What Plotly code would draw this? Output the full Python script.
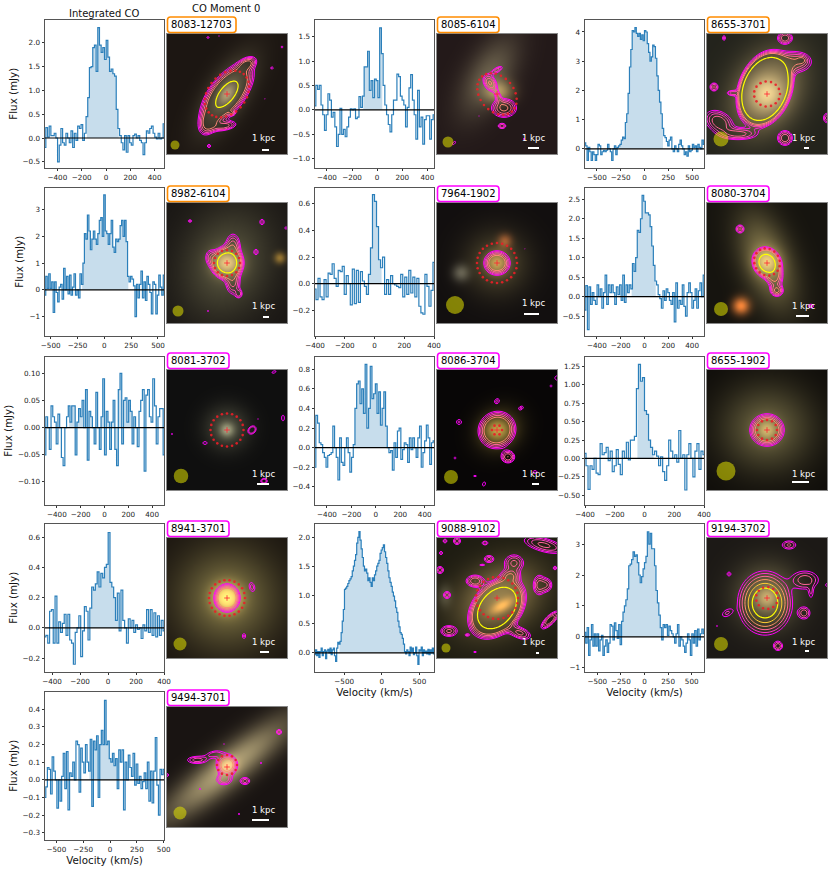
import numpy as np
import plotly.graph_objects as go

W, H = 831, 869
IDS = ["8083-12703", "8085-6104", "8655-3701", "8982-6104", "7964-1902", "8080-3704", "8081-3702",
       "8086-3704", "8655-1902", "8941-3701", "9088-9102", "9194-3702", "9494-3701"]
BOX_COLORS = ["#ff8c00"] * 4 + ["#ff00ff"] * 9

XLIM = [(-502, 477), (-495, 453), (-625, 625), (-553, 556), (-400, 400), (-500, 500), (-500, 500),
        (-498, 476), (-400, 400), (-450, 400), (-889, 695), (-630, 630), (-606, 503)]
YLIM = [(-0.62, 2.48), (-1.18, 1.84), (-0.64, 4.41), (-1.71, 3.81), (-0.39, 0.72), (-1.0, 2.79), (-0.1415, 0.13),
        (-0.58, 0.925), (-0.627, 1.38), (-0.288, 0.686), (-0.323, 2.23), (-1.12, 3.65), (-0.338, 0.498)]
X200 = [-400, -200, 0, 200, 400]
X250 = [-500, -250, 0, 250, 500]
XTICKS = [X200, X200, X250, X250, X200, X200, X200, X200, X200, X200, [-500, 0, 500], X250, X250]
YTICKS = [[-0.5, 0, 0.5, 1, 1.5, 2], [-1, -0.5, 0, 0.5, 1, 1.5], [0, 1, 2, 3, 4], [-1, 0, 1, 2, 3],
          [-0.2, 0, 0.2, 0.4, 0.6], [-0.5, 0, 0.5, 1, 1.5, 2, 2.5], [-0.1, -0.05, 0, 0.05, 0.1],
          [-0.4, -0.2, 0, 0.2, 0.4, 0.6, 0.8], [-0.5, -0.25, 0, 0.25, 0.5, 0.75, 1, 1.25],
          [-0.2, 0, 0.2, 0.4, 0.6], [0, 0.5, 1, 1.5, 2], [-1, 0, 1, 2, 3], [-0.3, -0.2, -0.1, 0, 0.1, 0.2, 0.3, 0.4]]
YFMT = [".1f", ".1f", ".0f", ".0f", ".1f", ".1f", ".2f", ".1f", ".2f", ".1f", ".1f", ".0f", ".1f"]
FILL_WINDOW = [(-165, 105), (-115, 52), (-280, 200), (-215, 235), (-58, 55), (-115, 95), (-300, 260),
               (-185, 105), (-55, 65), (-135, 75), (-565, 335), (-255, 175), (-205, 75)]

S_8083 = [-0.2,0.22,0.02,0.25,0.05,0.05,0.1,0.0,-0.5,-0.15,0.2,-0.1,-0.15,0.1,0.0,-0.1,0.15,-0.2,0.1,-0.05,0.25,0.2,0.28,-0.05,0.1,0.45,0.85,1.48,1.5,1.9,1.95,1.4,2.32,1.95,1.8,1.9,1.65,2.05,1.7,1.4,1.45,1.35,1.3,0.6,0.2,0.05,-0.1,-0.25,0.05,-0.3,0.05,-0.1,-0.15,0.05,0.08,0.0,0.05,-0.05,-0.1,-0.35,-0.1,0.15,0.1,0.2,0.25,0.1,0.02,-0.02,0.1,-0.02,0.0,0.3]
S_8085 = [0.08,0.5,0.42,0.5,0.1,-0.1,-0.42,-0.1,0.33,0.2,-0.15,-0.05,-0.35,-0.75,-0.5,0.03,-0.5,-0.4,-0.55,-0.35,-0.15,0.02,0.0,0.02,-0.18,-0.15,0.27,0.05,0.28,0.88,0.88,1.2,0.4,0.6,0.25,0.63,0.6,0.25,1.68,1.15,0.5,0.1,-0.1,-0.3,-0.45,-0.1,0.2,0.2,0.73,0.68,0.28,0.2,0.1,-0.35,0.05,0.45,0.72,0.2,-0.1,-0.6,0.4,-0.35,-0.15,-0.7,-0.2,-0.12,-0.12,-0.6,-0.2,-0.1]
S_8655A = [0.2,0.1,-0.4,0.05,-0.1,-0.4,-0.1,-0.2,-0.4,-0.2,0.15,0.1,-0.2,-0.1,-0.05,-0.1,-0.05,0.15,0.0,-0.1,-0.4,0.0,0.1,-0.2,0.05,0.1,0.15,0.3,0.4,0.35,0.9,1.2,1.9,2.8,3.4,4.05,4.0,4.15,3.95,3.85,3.95,3.75,3.9,3.7,4.05,4.0,3.6,3.3,3.0,3.15,3.55,3.5,3.1,2.5,2.0,1.6,1.2,0.7,0.45,0.38,0.25,0.1,0.3,0.4,0.0,-0.1,0.1,0.0,-0.1,0.15,0.3,0.1,0.0,-0.2,-0.1,-0.25,0.1,-0.1,-0.05,0.15,0.05,0.1,-0.1,0.15,0.05,0.0,0.3,0.15]
S_8982 = [-0.2,0.5,0.05,0.6,0.05,0.3,-0.85,0.3,-0.1,-0.45,0.1,0.2,-0.35,0.8,0.0,0.5,-0.15,0.55,-0.2,0.1,0.6,-0.2,0.0,-0.3,0.6,0.2,1.0,2.1,1.9,2.8,2.2,1.5,1.9,2.2,1.9,1.7,2.1,2.6,2.7,2.0,3.55,2.2,2.1,1.7,2.1,2.6,1.6,1.4,1.9,1.8,1.9,2.4,2.6,2.0,2.6,1.8,0.5,0.3,0.5,0.4,0.15,-1.0,0.2,-0.3,0.2,0.7,-0.3,0.3,-0.4,0.5,0.2,-0.1,-0.9,0.3,0.2,-0.9,-0.2,0.55,0.1,-0.2,0.55]
S_7964 = [-0.04,-0.12,0.04,-0.1,-0.12,0.03,-0.1,0.08,0.07,0.15,0.04,-0.02,0.1,0.09,0.13,-0.08,0.06,0.0,-0.16,0.11,-0.15,0.1,-0.14,0.09,0.02,-0.02,-0.08,0.07,0.27,0.67,0.62,0.43,0.18,0.12,0.2,-0.08,0.03,-0.08,0.06,0.0,-0.01,-0.02,-0.03,0.07,-0.1,0.05,-0.08,0.1,-0.07,0.05,-0.1,0.04,-0.17,-0.22,-0.23,0.07,-0.02,-0.17,-0.05,0.16]
S_8080 = [-0.35,0.28,-0.85,0.25,-0.2,0.1,-0.1,-0.2,0.3,0.0,0.2,-0.3,0.1,0.55,-0.2,0.3,0.1,0.3,0.1,-0.2,0.25,0.05,0.3,-0.1,0.55,-0.15,0.3,0.1,0.3,0.2,0.85,0.65,1.0,1.7,1.65,2.0,2.6,2.45,2.15,2.15,2.1,1.8,1.3,0.8,0.4,0.3,0.05,-0.05,-0.3,0.15,-0.1,0.2,0.1,-0.1,-0.2,0.1,-0.65,0.35,-0.3,-0.1,-0.2,0.3,-0.25,-0.5,0.1,0.35,0.1,-0.3,-0.1,0.2,-0.3,0.15,0.35,0.0,0.55]
S_8081 = [-0.05,0.02,0.0,-0.04,0.04,0.02,0.01,-0.03,0.025,0.0,-0.055,-0.07,0.0,0.02,0.04,0.01,0.04,0.04,-0.05,0.01,0.035,0.02,0.05,0.0,0.07,-0.06,0.03,0.02,0.0,-0.03,0.065,0.0,-0.04,0.02,0.09,-0.05,0.03,0.01,-0.04,0.01,0.05,-0.04,-0.07,0.07,0.1,-0.03,0.05,0.055,0.01,0.05,0.03,-0.03,0.02,0.0,-0.035,0.03,0.05,0.07,-0.08,0.06,0.07,0.02,0.01,0.09,0.04,-0.03,0.02,0.035,0.035,-0.05]
S_8086 = [-0.2,0.33,0.25,0.05,0.03,-0.05,-0.1,-0.2,-0.08,-0.07,-0.05,0.22,0.0,-0.1,-0.33,0.1,-0.15,-0.18,0.0,0.1,-0.05,-0.25,-0.1,0.03,0.4,0.65,0.68,0.45,0.6,0.35,0.85,0.2,0.4,0.83,0.5,0.55,0.65,0.35,0.57,0.23,0.4,0.57,0.22,0.0,-0.05,-0.03,-0.23,0.05,-0.1,0.17,0.2,-0.12,-0.02,0.05,0.03,-0.15,0.1,-0.02,0.1,0.0,-0.1,0.1,0.22,-0.2,-0.05,0.07,0.23,0.1,-0.17,0.05,0.07]
S_8655B = [0.07,-0.1,-0.42,-0.1,-0.15,0.0,-0.2,-0.22,0.2,0.05,0.08,0.15,-0.03,0.1,-0.18,-0.1,0.12,-0.08,-0.22,0.1,0.0,0.22,-0.02,0.25,0.25,0.3,0.95,1.28,1.05,1.1,0.65,0.6,0.25,0.15,0.05,0.1,0.03,-0.1,0.02,-0.18,-0.3,-0.1,0.25,0.1,0.0,0.05,-0.05,0.38,0.0,0.05,-0.43,0.05,0.2,0.0,-0.25,0.1,0.2,-0.15,0.1,0.05]
S_8941 = [-0.06,-0.05,-0.1,0.11,0.12,-0.1,0.21,-0.1,0.04,-0.03,0.03,0.09,-0.05,0.09,-0.08,-0.1,-0.24,-0.03,0.0,0.08,-0.19,-0.02,0.14,0.11,-0.08,0.13,0.27,0.25,0.29,0.37,0.27,0.36,0.33,0.4,0.42,0.63,0.3,0.27,0.2,0.05,0.23,-0.02,0.25,0.05,0.0,-0.1,0.06,0.0,0.05,-0.03,0.02,-0.01,0.0,-0.07,0.02,-0.02,0.12,-0.03,0.12,-0.05,0.1,-0.06,0.08,-0.05,0.05,-0.02]
S_9088 = [-0.03,0.05,-0.05,0.02,-0.08,0.02,0.08,-0.05,0.02,0.05,-0.1,0.03,0.06,0.0,0.08,-0.03,0.05,0.08,-0.05,-0.15,0.08,0.18,0.15,0.2,0.35,0.55,0.75,1.1,1.12,1.15,1.2,1.25,1.28,1.32,1.42,1.5,1.6,1.7,1.9,2.0,2.1,1.95,1.8,1.65,1.5,1.42,1.45,1.38,1.25,1.3,1.22,1.15,1.3,1.25,1.35,1.42,1.5,1.55,1.6,1.72,1.78,1.82,1.87,1.75,1.65,1.55,1.42,1.3,1.22,1.15,1.05,0.98,0.9,0.78,0.7,0.55,0.45,0.35,0.32,0.25,0.15,0.02,-0.02,0.05,0.02,-0.05,0.1,0.02,0.08,-0.03,0.0,0.1,-0.05,-0.2,0.05,0.03,0.1,-0.05,0.05,0.0,0.03,-0.02,0.06,-0.03,0.05,0.0,0.08,-0.02]
S_9194 = [0.15,-0.2,0.3,-0.6,-0.1,0.4,-0.3,0.1,-0.3,0.1,-0.45,-0.1,0.05,-0.6,-0.3,-0.1,-0.5,-0.2,0.4,0.35,-0.1,0.45,0.2,-0.05,0.4,-0.25,0.5,0.8,1.0,1.2,1.55,2.3,2.35,2.5,2.75,2.6,2.65,2.4,2.0,1.75,1.95,2.2,2.4,2.6,3.4,3.0,3.35,2.85,2.85,2.3,1.5,1.1,0.7,0.3,-0.1,0.4,0.3,0.4,0.05,0.35,0.2,0.1,0.0,-0.2,0.1,0.4,-0.3,0.0,-0.1,-0.3,-0.5,-0.2,0.1,-0.1,-0.6,0.1,-0.2,0.2,-0.3,0.25,-0.1,0.1,0.25,0.1]
S_9494 = [-0.1,-0.04,0.07,0.06,-0.08,0.13,0.05,0.0,-0.16,0.0,-0.12,0.02,0.15,-0.05,0.16,-0.17,0.04,0.02,0.1,0.0,0.22,0.2,-0.07,0.18,0.1,0.04,0.2,0.1,0.05,0.23,-0.15,0.22,0.17,0.25,-0.1,0.2,0.28,0.2,0.45,0.2,0.22,0.12,0.1,0.15,0.08,0.12,-0.05,0.17,0.1,0.17,-0.17,0.1,0.0,0.14,0.07,0.02,0.15,-0.03,0.09,-0.02,0.02,-0.05,-0.01,0.04,-0.05,0.1,-0.12,0.05,-0.13,0.05,0.24,-0.03,-0.2,0.06,0.03,0.06]
SPECTRA = [S_8083, S_8085, S_8655A, S_8982, S_7964, S_8080, S_8081, S_8086, S_8655B, S_8941, S_9088, S_9194, S_9494]

# photo panels: background colour and soft light blobs (x, y, sx, sy, angle, r, g, b)
BG = [(28,22,18), (35,25,25), (35,35,28), (25,22,20), (18,15,15), (22,20,15), (15,15,15),
      (8,6,6), (15,13,10), (25,20,15), (30,28,18), (28,25,22), (25,20,18)]
G_8083 = [(60,60,30,13,-58,70,68,50), (60,60,8,5,-58,80,70,50)]
G_8085 = [(52,42,30,15,-60,70,70,50), (62,58,10,8,0,110,95,50)]
G_8655A = [(60,58,30,22,-60,130,110,70), (60,60,12,12,0,80,70,50)]
G_8982 = [(60,60,38,30,-70,60,60,40), (60,60,10,9,0,150,120,70), (113,55,4,4,0,110,80,20)]
G_7964 = [(60,60,22,22,0,60,55,30), (60,60,8,8,0,120,90,40), (68,38,5,5,0,110,50,20), (24,70,6,6,0,70,70,60)]
G_8080 = [(60,58,34,17,70,110,100,60), (60,59,9,9,0,110,90,50), (34,103,6,6,0,220,110,40)]
G_8081 = [(60,58,15,15,0,60,60,45), (60,60,5,5,0,90,90,70)]
G_8086 = [(62,60,16,14,-40,75,65,25), (60,60,9,8,0,110,90,40)]
G_8655B = [(60,58,32,30,0,85,80,50), (60,60,8,8,0,110,90,50)]
G_8941 = [(60,60,35,35,0,95,90,50), (60,60,10,10,0,170,140,60)]
G_9088 = [(62,60,30,22,-30,120,100,60), (65,68,9,4,-30,120,70,20), (8,58,5,8,0,40,40,35)]
G_9194 = [(60,58,22,22,0,85,80,50), (60,60,8,8,0,90,70,40)]
G_9494 = [(60,62,55,13,-38,150,140,100), (60,58,7,6,0,90,60,30)]
GALAXIES = [G_8083, G_8085, G_8655A, G_8982, G_7964, G_8080, G_8081, G_8086, G_8655B, G_8941, G_9088, G_9194, G_9494]

# CO moment-0 emission: components (x, y, sx, sy, angle, amplitude)
C_8083 = [(60,60,17,8,-52,12), (42,88,8,5,-65,3.5), (58,92,8,3,-10,2.5), (80,30,6,3.5,-30,3), (41,3.5,1.5,1,0,1.4),
          (52,2,1,0.7,0,1.2), (115,13,1.3,1.3,0,1.4), (105,34,1.5,1.5,0,1.4), (42,112,2,2,0,1.4), (65,79,2,1.5,0,2), (98,65,0.8,0.8,0,1.2)]
C_8085 = [(53,49,6,4,60,3.2), (60,36,5,2,-30,2), (67,74,8,6,0,3.4), (61,62,5,2,70,1.6), (65,92,3,2,0,2.2),
          (17,109,3,1.5,-45,1.3), (42,82,0.8,0.6,0,1.2), (87,105,1.2,1.2,0,1.3)]
C_8655A = [(58,55,12,8,-70,311), (88,28,11,7,0,3), (12,88,10,7,30,3), (33,100,12,4,0,2.5), (25,59,4,2,0,2), (95,26,3,2.5,0,1.5),
           (7,53,3,3,0,2.5), (78,4,5,4,0,3), (17,4,1.5,2.5,0,1.6), (78,104,5,5,0,3), (120,84,3,4,0,2)]
C_8982 = [(60,60,7,7,0,20), (66,42,5,8,0,2.5), (66,80,5,8,0,2.5), (72,91,2.5,3,0,1.8), (43,54,4,6,0,1.5), (23,18,2,1.5,0,1.5),
          (95,19,2.5,3,0,1.5), (89,49,2.5,3,0,1.5), (119,25,1.5,2,0,1.3), (41,108,1.5,0.7,0,1.2)]
C_7964 = [(60,60,7,6.5,0,6), (88,46,0.7,0.7,0,1.2)]
C_8080 = [(60,60,7,6,60,18), (70,88,4,3.5,0,3), (68,75,5,7,0,3), (33,26,3,3,0,2.5), (104,103,3,2,0,1.5)]
C_8081 = [(85,60,4,3,-45,2), (38,73,3,2,0,1.3), (5,64,1.5,1,0,1.2), (116,48,2,4,0,1.3), (107,2,3,1.5,-20,1.3),
          (97,111,3,2.5,0,1.8), (91,49,0.7,1,0,1.2)]
C_8086 = [(60,60,9.5,9,-40,8), (60,31,3,2.5,-45,1.4), (84,38,3,2,-30,1.4), (22,52,3,3,0,1.4), (71,87,4.5,4,0,3),
          (18,88,1.5,1.5,0,1.3), (38,106,2,1,0,1.3), (47,114,2,3,20,1.3), (98,102,3,2,0,1.3), (114,16,1.5,1.5,0,1.3), (120,8,3,3,0,1.3)]
C_8655B = [(60,60,8.5,8,0,8)]
C_8941 = [(60,60,6.5,7,0,8), (85,49,3,5,-15,1.5), (77,98,2,3,0,1.4)]
C_9088 = [(60,70,13,9,-50,40), (77,25,7,6,0,2.5), (73,38,6,4,0,2.5), (38,43,6,4,0,3), (10,57,3,3,0,2), (12,93,6,4,0,2.5),
          (30,97,2,1,0,1.4), (83,95,8,4,20,2.5), (52,21,4,3,0,2), (45,27,3,1,0,1.3), (48,5,3,2,0,1.6), (20,3,3,3,0,2),
          (8,3,2,2,0,1.6), (4,15,2,2,0,1.4), (3,32,3,3,0,2), (102,47,4,7,0,2.5), (110,47,4,5,0,2), (113,82,8,3,-45,3),
          (107,7,15,5,15,2.5), (118,30,2,2,0,1.5), (38,114,2,1,0,1.3)]
C_9194 = [(58,65,12,14,0,14), (98,42,9,6,0,3), (97,75,4,4,0,3), (71,108,3,3,0,3), (20,75,5,3,-30,1.6), (82,7,5,3,0,2.5),
          (22,36,2,2,0,1.6), (10,88,1,1,0,1.3), (104,55,2,5,0,1.4), (120,47,1.5,1.5,0,1.4)]
C_9494 = [(60,58,6,6,0,5), (30,53,8,3,0,2), (47,47,7,3,-10,1.5), (57,73,6,4,0,2), (78,74,4,3,0,2), (112,25,2,2,0,2.3),
          (0,68,2,2,0,1.4), (33,82,1,1.5,0,1.3), (94,56,1,1.5,0,1.3), (72,107,1.5,1,0,1.3), (57,37,0.5,1,0,1.2)]
CO_MAPS = [C_8083, C_8085, C_8655A, C_8982, C_7964, C_8080, C_8081, C_8086, C_8655B, C_8941, C_9088, C_9194, C_9494]
# contour ladder per panel: last level, level step, and whether the yellow top contour exists
LEVEL_END = [0.48, 0.48, 0.48, 0.48, 0.48, 0.48, 0.12, 0.48, 0.48, 0.48, 0.48, 0.72, 0.48]
LEVEL_STEP = [0.12, 0.12, 0.12, 0.12, 0.12, 0.12, 0.12, 0.12, 0.12, 0.12, 0.12, 0.18, 0.12]
HAS_YELLOW = [True, False, True, True, False, True, False, False, False, False, True, True, False]
YELLOW_LEVEL = 0.9

# aperture ellipse (x, y, a, b, angle), beam (x, y, diameter), scale bar (length, y), label y
APERTURE = [(60,60,26,19,-50), (60,60,23,17,50), (60,60,13,12.5,0), (60,60,13,13,0), (60,60,20,20,0), (60,59,14,12.5,60),
            (60,60,16.5,16.5,0), (60,60,5,5,0), (60,60,10,10,0), (60,60,18,18,0), (60,60,21,21,0), (60,60,11,11,0), (60,58,10,10,0)]
BEAM = [(8,111,9), (11,108,11), (14,105,15), (11,108,11), (18,102,18), (14,106,14), (14,106,14.5), (14,107,14), (19,101,19),
        (13,106,13), (9,110,9), (14,106,14), (13,106,13)]
BAR_LEN = [7, 11, 5, 6, 15, 13, 12, 7, 17, 9, 3, 4, 17]
BAR_Y = [116, 114, 114, 114, 111, 113, 114, 114, 112, 114, 115, 113, 113]
KPC_Y = [104, 104, 104, 103, 100, 103, 104, 104, 104, 104, 104, 104, 103]

# page layout, pixels
SPEC_LEFT = [45, 315, 585]
IMG_LEFT = [167, 437, 707]
SPEC_TOP = [20, 188, 357, 524, 692]
IMG_TOP = [34, 203, 370, 538, 707]
SPEC_W, SPEC_H, IMG_S = 119, 147.5, 120
FONT = "DejaVu Sans"


def spring(level):
    t = level / YELLOW_LEVEL
    return f"rgb(255,{int(255 * t)},{int(255 * (1 - t))})"


def gauss(xx, yy, x, y, sx, sy, ang):
    t = np.deg2rad(ang)
    u = (xx - x) * np.cos(t) + (yy - y) * np.sin(t)
    v = -(xx - x) * np.sin(t) + (yy - y) * np.cos(t)
    return np.exp(-0.5 * ((u / sx) ** 2 + (v / sy) ** 2))


def px(x):
    return x / W


def py(y):
    return 1 - y / H


def rounded(x0, y0, x1, y1, r=3):
    pts = [("M", x0 + r, y0), ("L", x1 - r, y0), ("Q", x1, y0, x1, y0 + r), ("L", x1, y1 - r), ("Q", x1, y1, x1 - r, y1),
           ("L", x0 + r, y1), ("Q", x0, y1, x0, y1 - r), ("L", x0, y0 + r), ("Q", x0, y0, x0 + r, y0)]
    out = []
    for p in pts:
        nums = []
        for k, val in enumerate(p[1:]):
            nums.append(f"{px(val) if k % 2 == 0 else py(val):.5f}")
        out.append(p[0] + " " + " ".join(nums))
    return " ".join(out) + " Z"


fig = go.Figure()
layout = {}
annotations = []
shapes = []
xg = np.arange(0.5, 120, 1.0)
xx, yy = np.meshgrid(xg, xg)
xc = np.arange(0, 121, 1.0)
cx, cy = np.meshgrid(xc, xc)

for i, name in enumerate(IDS):
    row, col = i // 3, i % 3
    sa, ia = 2 * i + 1, 2 * i + 2
    sx_ref, sy_ref = f"x{sa}", f"y{sa}"
    ix_ref, iy_ref = f"x{ia}", f"y{ia}"
    sl, st = SPEC_LEFT[col], SPEC_TOP[row]
    il, it = IMG_LEFT[col], IMG_TOP[row]
    show_x = name in ("9088-9102", "9194-3702", "9494-3701")
    layout[f"xaxis{sa}"] = dict(domain=[px(sl), px(sl + SPEC_W)], range=list(XLIM[i]), anchor=sy_ref, showline=True, mirror=True,
                                linecolor="#555555", linewidth=1, ticks="outside", ticklen=2.5, tickwidth=0.8, tickcolor="#333333",
                                showgrid=False, zeroline=False, tickvals=XTICKS[i], tickfont=dict(family=FONT, size=7.2, color="#222222"),
                                automargin=False,
                                title=dict(text="Velocity (km/s)", font=dict(family=FONT, size=10.3, color="#111111"), standoff=3) if show_x else None)
    layout[f"yaxis{sa}"] = dict(domain=[py(st + SPEC_H), py(st)], range=list(YLIM[i]), anchor=sx_ref, showline=True, mirror=True,
                                linecolor="#555555", linewidth=1, ticks="outside", ticklen=2.5, tickwidth=0.8, tickcolor="#333333",
                                showgrid=False, zeroline=False, tickvals=YTICKS[i], tickformat=YFMT[i], automargin=False,
                                tickfont=dict(family=FONT, size=7.2, color="#222222"),
                                title=dict(text="Flux (mJy)", font=dict(family=FONT, size=10.3, color="#111111"), standoff=3) if col == 0 else None)
    layout[f"xaxis{ia}"] = dict(domain=[px(il), px(il + IMG_S)], range=[0, 120], anchor=iy_ref, showline=True, mirror=True, automargin=False,
                                linecolor="#888888", linewidth=1, showticklabels=False, ticks="", showgrid=False, zeroline=False)
    layout[f"yaxis{ia}"] = dict(domain=[py(it + IMG_S), py(it)], range=[120, 0], anchor=ix_ref, showline=True, mirror=True, automargin=False,
                                linecolor="#888888", linewidth=1, showticklabels=False, ticks="", showgrid=False, zeroline=False)

    # spectrum
    vals = np.array(SPECTRA[i], dtype=float)
    vel = np.linspace(XLIM[i][0], XLIM[i][1], len(vals))
    lo, hi = FILL_WINDOW[i]
    m = (vel >= lo) & (vel <= hi)
    fig.add_trace(go.Scatter(x=vel[m], y=vals[m], mode="lines", line=dict(shape="hvh", width=0), fill="tozeroy",
                             fillcolor="rgba(31,119,180,0.25)", xaxis=sx_ref, yaxis=sy_ref, showlegend=False, hoverinfo="skip"))
    fig.add_trace(go.Scatter(x=vel, y=vals, mode="lines", line=dict(shape="hvh", width=1.2, color="#2b7fba"),
                             xaxis=sx_ref, yaxis=sy_ref, showlegend=False))
    fig.add_trace(go.Scatter(x=list(XLIM[i]), y=[0, 0], mode="lines", line=dict(width=1.2, color="black"),
                             xaxis=sx_ref, yaxis=sy_ref, showlegend=False, hoverinfo="skip"))

    # photo
    rgb = np.zeros((120, 120, 3)) + np.array(BG[i], dtype=float)
    for (x, y, s1, s2, ang, r, g, b) in GALAXIES[i]:
        rgb += gauss(xx, yy, x, y, s1, s2, ang)[..., None] * np.array([r, g, b], dtype=float)
    fig.add_trace(go.Image(z=np.clip(rgb, 0, 255).astype(int).tolist(), x0=0.5, y0=0.5, dx=1, dy=1,
                           xaxis=ix_ref, yaxis=iy_ref, hoverinfo="skip"))

    # CO contours
    field = np.zeros_like(cx) + 1e-4
    for (x, y, s1, s2, ang, amp) in CO_MAPS[i]:
        field += amp * gauss(cx, cy, x, y, s1, s2, ang)
    logf = np.log10(field)
    band = [[0, "#ff00ff"], [1, spring(LEVEL_END[i])]]
    fig.add_trace(go.Contour(x=xc, y=xc, z=logf, autocontour=False, colorscale=band, showscale=False,
                             contours=dict(coloring="lines", start=0, end=LEVEL_END[i], size=LEVEL_STEP[i]),
                             line=dict(width=1, smoothing=1), xaxis=ix_ref, yaxis=iy_ref, hoverinfo="skip"))
    if HAS_YELLOW[i]:
        fig.add_trace(go.Contour(x=xc, y=xc, z=logf, autocontour=False, colorscale=[[0, "#ffff00"], [1, "#ffff00"]], showscale=False,
                                 contours=dict(coloring="lines", start=YELLOW_LEVEL, end=YELLOW_LEVEL, size=1),
                                 line=dict(width=1.2, smoothing=1), xaxis=ix_ref, yaxis=iy_ref, hoverinfo="skip"))

    # aperture, centre, beam, scale bar
    ax, ay, aa, ab, aang = APERTURE[i]
    circ = np.pi * (aa + ab)
    n = max(6, int(round(circ / 5.2)))
    th = np.linspace(0, 2 * np.pi, n, endpoint=False)
    t = np.deg2rad(aang)
    ex = ax + aa * np.cos(th) * np.cos(t) - ab * np.sin(th) * np.sin(t)
    ey = ay + aa * np.cos(th) * np.sin(t) + ab * np.sin(th) * np.cos(t)
    fig.add_trace(go.Scatter(x=ex, y=ey, mode="markers", marker=dict(size=2.6, color="rgba(235,30,40,0.9)"),
                             xaxis=ix_ref, yaxis=iy_ref, showlegend=False, hoverinfo="skip"))
    fig.add_trace(go.Scatter(x=[60], y=[60], mode="markers", marker=dict(symbol="cross-thin", size=4, line=dict(width=0.8, color="#ff2030")),
                             xaxis=ix_ref, yaxis=iy_ref, showlegend=False, hoverinfo="skip"))
    bx, by, bd = BEAM[i]
    fig.add_trace(go.Scatter(x=[bx], y=[by], mode="markers", marker=dict(size=bd, color="rgba(225,225,0,0.55)", line=dict(width=0)),
                             xaxis=ix_ref, yaxis=iy_ref, showlegend=False, hoverinfo="skip"))
    fig.add_trace(go.Scatter(x=[102 - BAR_LEN[i], 102], y=[BAR_Y[i], BAR_Y[i]], mode="lines", line=dict(width=2, color="white"),
                             xaxis=ix_ref, yaxis=iy_ref, showlegend=False, hoverinfo="skip"))
    annotations.append(dict(x=96.5, y=KPC_Y[i], xref=ix_ref, yref=iy_ref, text="1 kpc", showarrow=False, xanchor="center", yanchor="middle",
                            font=dict(family=FONT, size=8.5, color="white")))

    # label box
    bw = 69 if len(name) == 10 else 62
    shapes.append(dict(type="path", xref="paper", yref="paper", path=rounded(il + 0.5, it - 17, il + bw, it - 1.5),
                       line=dict(color=BOX_COLORS[i], width=1.6), fillcolor="white", layer="above"))
    annotations.append(dict(x=px(il + bw / 2 + 0.3), y=py(it - 9.2), xref="paper", yref="paper", text=name, showarrow=False,
                            font=dict(family=FONT, size=10, color="black"), xanchor="center", yanchor="middle"))

annotations.append(dict(x=px(104), y=py(13.5), xref="paper", yref="paper", text="Integrated CO", showarrow=False,
                        xanchor="center", yanchor="middle", font=dict(family=FONT, size=10, color="#111111")))
annotations.append(dict(x=px(226), y=py(9), xref="paper", yref="paper", text="CO Moment 0", showarrow=False,
                        xanchor="center", yanchor="middle", font=dict(family=FONT, size=10, color="#111111")))

fig.update_layout(width=W, height=H, margin=dict(l=0, r=0, t=0, b=0), paper_bgcolor="white", plot_bgcolor="white",
                  showlegend=False, annotations=annotations, shapes=shapes, **layout)
fig.write_html("out.html", config={"displayModeBar": False},
               post_script="document.body.style.margin='0';document.body.style.overflow='hidden';")
